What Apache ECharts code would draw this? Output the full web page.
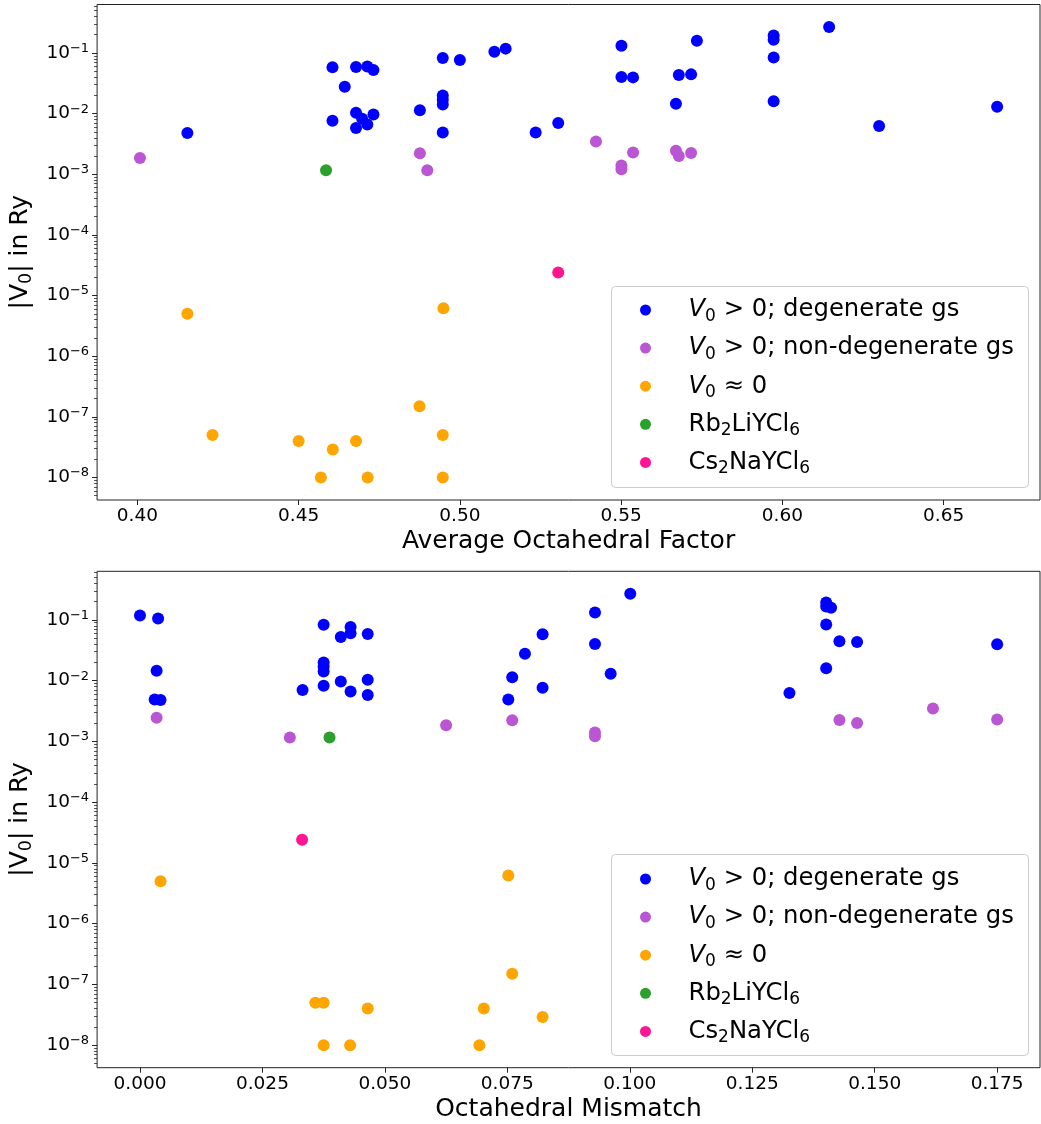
<!DOCTYPE html>
<html>
<head>
<meta charset="utf-8">
<script src="https://cdn.jsdelivr.net/npm/echarts@6/dist/echarts.min.js"></script>
<style>html, body { margin: 0; padding: 0; background: #fff; }</style>
</head>
<body>
<div id="main" style="width: 1041px; height: 1124px;"></div>
<script type="text/javascript">
    // V0 > 0; degenerate gs
    let degFactor = [0.4155, 0.4605, 0.4605, 0.4643, 0.4678, 0.4678, 0.4678, 0.4697, 0.4713, 0.4732, 0.4713, 0.4732, 0.4876,
        0.4947, 0.4947, 0.4947, 0.4947, 0.4947, 0.5000, 0.5107, 0.5142, 0.5235, 0.5305, 0.5501, 0.5501, 0.5537, 0.5670,
        0.5679, 0.5717, 0.5735, 0.5973, 0.5973, 0.5973, 0.5973, 0.6145, 0.6300, 0.6666]
    let degMismatch = [0.0042, 0.0822, 0.0822, 0.0786, 0.0465, 0.0465, 0.0465, 0.0375, 0.0430, 0.0410, 0.0430, 0.0410, 0.0760,
        0.0375, 0.0375, 0.0375, 0.0375, 0.0752, 0.0430, 0.0037, 0.0000, 0.0030, 0.0332, 0.0929, 0.0929, 0.1750, 0.0034,
        0.1464, 0.1428, 0.1411, 0.1401, 0.1401, 0.1401, 0.1401, 0.1001, 0.1326, 0.0961]
    let degV0 = [4.8e-3, 0.058, 7.6e-3, 0.0278, 0.0587, 0.0103, 5.8e-3, 8.2e-3, 0.060, 0.0524, 6.6e-3, 9.7e-3, 0.0114,
        0.083, 0.0199, 0.0170, 0.0141, 4.9e-3, 0.0766, 0.105, 0.118, 4.9e-3, 7.0e-3, 0.132, 0.0402, 0.0396, 0.0146,
        0.0434, 0.0444, 0.159, 0.194, 0.166, 0.084, 0.0160, 0.268, 6.27e-3, 0.0130]

    // V0 > 0; non-degenerate gs
    let nonFactor = [0.4008, 0.4876, 0.4899, 0.5422, 0.5501, 0.5501, 0.5537, 0.5670, 0.5679, 0.5717]
    let nonMismatch = [0.0625, 0.0760, 0.0306, 0.1619, 0.0929, 0.0929, 0.1750, 0.0034, 0.1464, 0.1428]
    let nonV0 = [1.85e-3, 2.23e-3, 1.16e-3, 3.47e-3, 1.40e-3, 1.21e-3, 2.29e-3, 2.44e-3, 2.00e-3, 2.25e-3]

    // V0 ~ 0
    let zeroFactor = [0.4155, 0.4949, 0.4233, 0.4875, 0.4947, 0.4500, 0.4606, 0.4678, 0.4569, 0.4714, 0.4947]
    let zeroMismatch = [0.0042, 0.0752, 0.0358, 0.0760, 0.0375, 0.0702, 0.0822, 0.0465, 0.0693, 0.0429, 0.0375]
    let zeroV0 = [5.0e-6, 6.2e-6, 5.0e-8, 1.5e-7, 5.0e-8, 4.0e-8, 2.9e-8, 4.0e-8, 1.0e-8, 1.0e-8, 1.0e-8]

    let rbFactor = [0.4585]
    let rbMismatch = [0.0387]
    let rbV0 = [1.16e-3]

    let csFactor = [0.5305]
    let csMismatch = [0.0331]
    let csV0 = [2.4e-5]

    let factorTicks = [0.40, 0.45, 0.50, 0.55, 0.60, 0.65]
    let mismatchTicks = [0.000, 0.025, 0.050, 0.075, 0.100, 0.125, 0.150, 0.175]
    let decadeTicks = [-8, -7, -6, -5, -4, -3, -2, -1]

    let seriesNames = ['V0 > 0; degenerate gs', 'V0 > 0; non-degenerate gs', 'V0 ≈ 0', 'Rb2LiYCl6', 'Cs2NaYCl6']
    let seriesColors = ['#0000ff', '#ba55d3', '#ffa500', '#2ca02c', '#ff1493']

    const FONT = 'DejaVu Sans'

    function pad(lo, hi) {
        let s = (hi - lo) * 0.05
        return [lo - s, hi + s]
    }

    function draw() {
        let myChart = echarts.init(document.getElementById('main'))

        let allFactor = [].concat(degFactor, nonFactor, zeroFactor, rbFactor, csFactor)
        let allMismatch = [].concat(degMismatch, nonMismatch, zeroMismatch, rbMismatch, csMismatch)
        let allLog = [].concat(degV0, nonV0, zeroV0, rbV0, csV0).map(v => Math.log10(v))

        let fRange = pad(Math.min(...allFactor), Math.max(...allFactor))
        let mRange = pad(Math.min(...allMismatch), Math.max(...allMismatch))
        let yRange = pad(Math.min(...allLog), Math.max(...allLog))

        let minorTicks = []
        for (let e = -9; e <= 0; e++) {
            for (let k = 2; k <= 9; k++) minorTicks.push(e + Math.log10(k))
        }

        let nameRich = {
            t: { fontSize: 25, lineHeight: 30, fontFamily: FONT, color: '#000' },
            sub: { fontSize: 17.5, lineHeight: 14, fontFamily: FONT, verticalAlign: 'bottom', color: '#000' }
        }
        let legendRich = {
            t: { fontSize: 24.3, lineHeight: 30, fontFamily: FONT, color: '#000' },
            i: { fontSize: 24.3, lineHeight: 30, fontFamily: FONT, fontStyle: 'italic', color: '#000' },
            sub: { fontSize: 17, lineHeight: 14, fontFamily: FONT, verticalAlign: 'bottom', color: '#000' }
        }

        let legendText = {}
        legendText[seriesNames[0]] = '{i|V}{sub|0}{t| > 0; degenerate gs}'
        legendText[seriesNames[1]] = '{i|V}{sub|0}{t| > 0; non-degenerate gs}'
        legendText[seriesNames[2]] = '{i|V}{sub|0}{t| ≈ 0}'
        legendText[seriesNames[3]] = '{t|Rb}{sub|2}{t|LiYCl}{sub|6}'
        legendText[seriesNames[4]] = '{t|Cs}{sub|2}{t|NaYCl}{sub|6}'

        function makeLegend(top) {
            return {
                orient: 'vertical',
                left: 611,
                top: top,
                z: 5,
                padding: [7, 10, 7, 29],
                itemGap: 11.1,
                itemWidth: 76,
                itemHeight: 11,
                icon: 'circle',
                selectedMode: false,
                data: seriesNames,
                formatter: n => legendText[n],
                textStyle: { rich: legendRich }
            }
        }

        function legendFrame(top) {
            return {
                type: 'rect',
                left: 611,
                top: top,
                z: 1,
                shape: { width: 417, height: 201, r: 4 },
                style: { fill: '#fff', stroke: '#cccccc', lineWidth: 1 }
            }
        }

        function makeX(idx, range, ticks, digits, title) {
            return {
                type: 'value',
                gridIndex: idx,
                min: range[0],
                max: range[1],
                name: title,
                nameLocation: 'middle',
                nameGap: 29,
                nameTextStyle: { fontSize: 25, fontFamily: FONT, color: '#000' },
                axisLine: { show: false, onZero: false },
                axisTick: { show: true, length: 5, customValues: ticks, lineStyle: { color: '#222', width: 1 } },
                axisLabel: {
                    customValues: ticks,
                    margin: 7,
                    fontSize: 18.5,
                    fontFamily: FONT,
                    color: '#000',
                    formatter: v => v.toFixed(digits)
                },
                splitLine: { show: false }
            }
        }

        function makeY(idx) {
            return {
                type: 'value',
                gridIndex: idx,
                min: yRange[0],
                max: yRange[1],
                name: '{t||V}{sub|0}{t|| in Ry}',
                nameLocation: 'middle',
                nameRotate: 90,
                nameGap: 52,
                nameTextStyle: { rich: nameRich },
                axisLine: { show: false, onZero: false },
                axisTick: { show: true, length: 5, customValues: decadeTicks, lineStyle: { color: '#222', width: 1 } },
                axisLabel: {
                    customValues: decadeTicks,
                    margin: 8,
                    formatter: v => '{b|10}{s|\u2212' + Math.abs(Math.round(v)) + '}',
                    rich: {
                        b: { fontSize: 18.5, lineHeight: 22, fontFamily: FONT, color: '#000' },
                        s: { fontSize: 13, lineHeight: 11, fontFamily: FONT, color: '#000', verticalAlign: 'top' }
                    }
                },
                splitLine: { show: false }
            }
        }

        function makeMinorY(idx) {
            return {
                type: 'value',
                gridIndex: idx,
                min: yRange[0],
                max: yRange[1],
                position: 'left',
                axisLine: { show: false, onZero: false },
                axisTick: { show: true, length: 3, customValues: minorTicks, lineStyle: { color: '#222', width: 0.8 } },
                axisLabel: { show: false },
                splitLine: { show: false }
            }
        }

        let groups = [
            [degFactor, degMismatch, degV0],
            [nonFactor, nonMismatch, nonV0],
            [zeroFactor, zeroMismatch, zeroV0],
            [rbFactor, rbMismatch, rbV0],
            [csFactor, csMismatch, csV0]
        ]

        let series = []
        groups.forEach((g, k) => {
            series.push({
                name: seriesNames[k], type: 'scatter', xAxisIndex: 0, yAxisIndex: 0,
                symbolSize: 12, itemStyle: { color: seriesColors[k], opacity: 1 },
                data: g[0].map((x, i) => [x, Math.log10(g[2][i])])
            })
        })
        groups.forEach((g, k) => {
            series.push({
                name: seriesNames[k], type: 'scatter', xAxisIndex: 1, yAxisIndex: 2,
                symbolSize: 12, itemStyle: { color: seriesColors[k], opacity: 1 },
                data: g[1].map((x, i) => [x, Math.log10(g[2][i])])
            })
        })

        let gridStyle = { show: true, borderColor: '#222', borderWidth: 1, backgroundColor: 'transparent' }

        let option = {
            animation: false,
            backgroundColor: '#fff',
            textStyle: { fontFamily: FONT },
            grid: [
                Object.assign({ left: 96.5, top: 4.5, width: 943.5, height: 495.5 }, gridStyle),
                Object.assign({ left: 96.5, top: 571.3, width: 943.5, height: 496.4 }, gridStyle)
            ],
            graphic: [legendFrame(286), legendFrame(854)],
            legend: [makeLegend(291), makeLegend(860)],
            xAxis: [
                makeX(0, fRange, factorTicks, 2, 'Average Octahedral Factor'),
                makeX(1, mRange, mismatchTicks, 3, 'Octahedral Mismatch')
            ],
            yAxis: [makeY(0), makeMinorY(0), makeY(1), makeMinorY(1)],
            series: series
        }
        myChart.setOption(option)
    }

    draw()
</script>
</body>
</html>
